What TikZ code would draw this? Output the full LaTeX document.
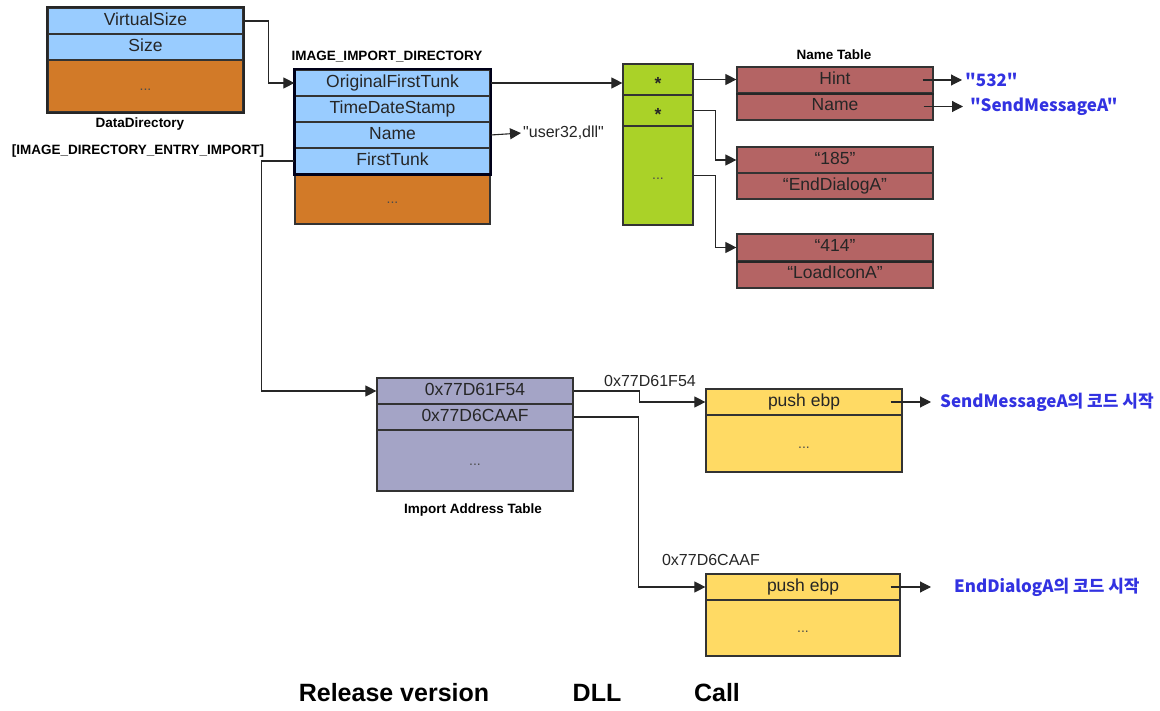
\documentclass[tikz,border=0pt]{standalone}
\usepackage{fontspec}
\setmainfont{Liberation Sans}
\newfontfamily\rawsans{Liberation Sans}
\newfontfamily\kr{Noto Sans CJK KR}
\usetikzlibrary{arrows.meta}

\definecolor{dirblue}{RGB}{153,204,255}
\definecolor{restorange}{RGB}{210,122,40}
\definecolor{intgreen}{RGB}{170,210,40}
\definecolor{namered}{RGB}{180,100,100}
\definecolor{iatviolet}{RGB}{164,164,198}
\definecolor{codeyellow}{RGB}{255,218,100}
\definecolor{labelblue}{RGB}{50,50,225}

\begin{document}
\begin{tikzpicture}[
x=1pt,y=-1pt,
field/.style={draw=black!80,line width=1.2pt,inner sep=0pt,
	minimum width=195pt,minimum height=26pt,text height=13pt,text depth=4pt,
	font=\fontsize{17.5}{19}\selectfont,text=black!85},
filler/.style={field,font=\fontsize{14}{16}\selectfont,text=black!70},
capt/.style={font=\bfseries\fontsize{13.5}{15}\selectfont,inner sep=1pt},
txt/.style={font=\rawsans\fontsize{16}{18}\selectfont,inner sep=1pt,text=black!85},
bluetxt/.style={font=\kr\bfseries\fontsize{17}{19}\selectfont,inner sep=1pt,text=labelblue},
ptr/.style={line width=1.1pt,draw=black!85,-{Triangle[length=11pt,width=11pt]}}
]
\useasboundingbox (0,0) rectangle (1160,711);

% DataDirectory
\node[field,fill=dirblue] (vsize) at (145.5,21) {VirtualSize};
\node[field,fill=dirblue] (size) at (145.5,47) {Size};
\node[filler,fill=restorange,minimum height=52pt] (ddrest) at (145.5,86) {...};
\draw[line width=2pt,draw=black!85] (vsize.north west) rectangle (ddrest.south east);
\node[capt] (ddcapt) at (140,124) {DataDirectory};
\node[capt] (entrycapt) at (138,151) {[IMAGE\_DIRECTORY\_ENTRY\_IMPORT]};

% IMAGE_IMPORT_DIRECTORY
\node[capt] (iidcapt) at (387,57) {IMAGE\_IMPORT\_DIRECTORY};
\node[field,fill=dirblue] (oft) at (392.5,83) {OriginalFirstTunk};
\node[field,fill=dirblue] (tds) at (392.5,109) {TimeDateStamp};
\node[field,fill=dirblue] (nm) at (392.5,135) {Name};
\node[field,fill=dirblue] (ft) at (392.5,161) {FirstTunk};
\node[filler,fill=restorange,minimum height=50pt] (iidrest) at (392.5,199) {...};
\draw[line width=2.2pt,draw=black!90!blue] (oft.north west) rectangle (ft.south east);
\node[txt,anchor=west] (dllname) at (522,133) {"user32,dll"};

% INT
\node[field,fill=intgreen,minimum width=70pt,minimum height=31pt] (ptr1) at (658,79.5) {\bfseries\raisebox{-6pt}{*}};
\node[field,fill=intgreen,minimum width=70pt,minimum height=31pt] (ptr2) at (658,110.5) {\bfseries\raisebox{-6pt}{*}};
\node[filler,fill=intgreen,minimum width=70pt,minimum height=99pt] (ptr3) at (658,175.5) {...};

% Name Table
\node[capt] (ntcapt) at (834,55) {Name Table};
\node[field,fill=namered,minimum width=196pt] (hint) at (835,80) {Hint};
\node[field,fill=namered,minimum width=196pt,minimum height=27pt] (fname) at (835,106.5) {Name};
\draw[line width=2pt,draw=black!85] (hint.south west) -- (hint.south east);
\node[field,fill=namered,minimum width=196pt] (n185) at (835,160) {“185”};
\node[field,fill=namered,minimum width=196pt] (nend) at (835,186) {“EndDialogA”};
\node[field,fill=namered,minimum width=196pt,minimum height=27pt] (n414) at (835,247.5) {“414”};
\node[field,fill=namered,minimum width=196pt,minimum height=27pt] (nload) at (835,274.5) {“LoadIconA”};
\draw[line width=2pt,draw=black!85] (n414.south west) -- (n414.south east);
\node[bluetxt,anchor=west] (v532) at (964,80) {"532"};
\node[bluetxt,anchor=west] (vname) at (969,106.5) {"SendMessageA"};

% IAT
\node[field,fill=iatviolet,minimum width=196pt] (iat1) at (475,391) {0x77D61F54};
\node[field,fill=iatviolet,minimum width=196pt] (iat2) at (475,417) {0x77D6CAAF};
\node[filler,fill=iatviolet,minimum width=196pt,minimum height=61pt] (iat3) at (475,460.5) {...};
\node[capt] (iatcapt) at (473,510) {Import Address Table};

% code
\node[txt] (addr1) at (650,381) {0x77D61F54};
\node[field,fill=codeyellow,minimum width=196pt] (push1) at (804,402) {push ebp};
\node[filler,fill=codeyellow,minimum width=196pt,minimum height=57pt] (body1) at (804,443.5) {...};
\node[bluetxt,anchor=west] (start1) at (939,402) {SendMessageA의 코드 시작};
\node[txt] (addr2) at (711,560) {0x77D6CAAF};
\node[field,fill=codeyellow,minimum width=194pt] (push2) at (803,587) {push ebp};
\node[filler,fill=codeyellow,minimum width=194pt,minimum height=56pt] (body2) at (803,628) {...};
\node[bluetxt,anchor=west] (start2) at (953,587) {EndDialogA의 코드 시작};

% title
\node[font=\bfseries\fontsize{25}{28}\selectfont] (rel) at (394,693) {Release version};
\node[font=\bfseries\fontsize{25}{28}\selectfont] (dll) at (597,693) {DLL};
\node[font=\bfseries\fontsize{25}{28}\selectfont] (call) at (717,693) {Call};

% links
\draw[ptr] (vsize.east) -- ++(25,0) |- (oft.west);
\draw[ptr] (oft.east) -- (oft.east -| ptr1.west);
\draw[ptr,shorten >=1pt] (nm.east) -- (dllname.west);
\draw[ptr] (ft.west) -- ++(-33,0) |- (iat1.west);
\draw[ptr] (ptr1.east) -- (ptr1.east -| hint.west);
\draw[ptr] (ptr2.east) -- ++(22,0) |- (n185.west);
\draw[ptr] (ptr3.east) -- ++(22,0) |- (n414.west);
\draw[ptr,shorten >=2pt] ([xshift=-11pt]hint.east) -- (v532.west);
\draw[ptr,shorten >=6pt] ([xshift=-10pt]fname.east) -- (vname.west);
\draw[ptr] (iat1.east) -- ++(66,0) |- (push1.west);
\draw[ptr] (iat2.east) -- ++(65,0) |- (push2.west);
\draw[ptr,shorten >=8pt] ([xshift=-12pt]push1.east) -- (start1.west);
\draw[ptr,shorten >=22pt] ([xshift=-10pt]push2.east) -- (start2.west);
\end{tikzpicture}
\end{document}
